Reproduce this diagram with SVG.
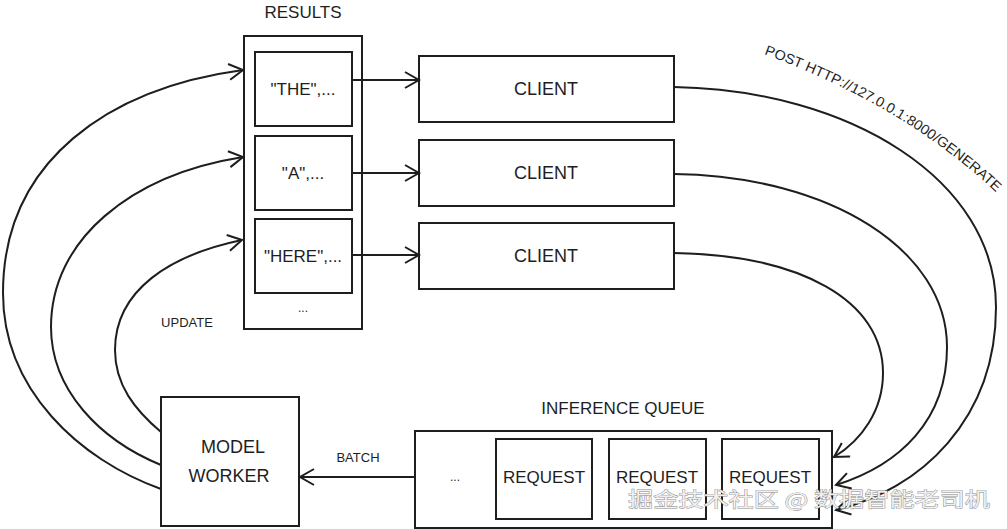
<svg xmlns="http://www.w3.org/2000/svg" width="1007" height="529" viewBox="0 0 1007 529">
<style>
.box{fill:#fff;stroke:#1e1e1e;stroke-width:2}
.ln{fill:none;stroke:#1e1e1e;stroke-width:2}
.t{font-family:"Liberation Sans",Arial,sans-serif;fill:#1e1e1e;text-anchor:middle;dominant-baseline:central}
.wm{font-family:"Noto Sans CJK SC","Liberation Sans",sans-serif;font-size:20px;fill:#f0f0f0;stroke:#8a8a8a;stroke-width:0.8;paint-order:stroke}
</style>
<defs>
<marker id="ah" viewBox="0 0 20 20" refX="18" refY="10" markerWidth="20" markerHeight="20" markerUnits="userSpaceOnUse" orient="auto">
<path d="M4 2 L18 10 L4 18" fill="none" stroke="#1e1e1e" stroke-width="2"/>
</marker>
<path id="postPath" d="M764 54 Q910 108 1002 198"/>
</defs>
<rect width="1007" height="529" fill="#fff"/>

<g id="results">
<text class="t" x="303" y="12" font-size="17">RESULTS</text>
<rect class="box" x="244" y="36" width="118" height="293"/>
</g>
<g id="res-the">
<rect class="box" x="255" y="52" width="97" height="74"/>
<text class="t" x="303" y="89" font-size="17">"THE",...</text>
</g>
<g id="res-a">
<rect class="box" x="255" y="136" width="97" height="74"/>
<text class="t" x="303" y="173" font-size="17">"A",...</text>
</g>
<g id="res-here">
<rect class="box" x="255" y="219" width="97" height="74"/>
<text class="t" x="303" y="256" font-size="17">"HERE",...</text>
</g>
<g id="res-more">
<text class="t" x="303" y="308" font-size="12">...</text>
</g>

<g id="client1">
<rect class="box" x="419" y="56" width="255" height="66"/>
<text class="t" x="546" y="89" font-size="18">CLIENT</text>
</g>
<g id="client2">
<rect class="box" x="419" y="140" width="255" height="66"/>
<text class="t" x="546" y="173" font-size="18">CLIENT</text>
</g>
<g id="client3">
<rect class="box" x="419" y="223" width="255" height="66"/>
<text class="t" x="546" y="256" font-size="18">CLIENT</text>
</g>

<g id="model-worker">
<rect class="box" x="161" y="397" width="138" height="129"/>
<text class="t" x="233" y="447" font-size="18">MODEL</text>
<text class="t" x="229" y="476" font-size="18">WORKER</text>
</g>

<g id="inference-queue">
<text class="t" x="623" y="408" font-size="17">INFERENCE QUEUE</text>
<rect class="box" x="415" y="431" width="417" height="97"/>
<text class="t" x="455" y="477" font-size="12">...</text>
</g>
<g id="request1">
<rect class="box" x="496" y="439" width="96" height="80"/>
<text class="t" x="544" y="477" font-size="17">REQUEST</text>
</g>
<g id="request2">
<rect class="box" x="609" y="439" width="97" height="80"/>
<text class="t" x="657" y="477" font-size="17">REQUEST</text>
</g>
<g id="request3">
<rect class="box" x="722" y="439" width="97" height="80"/>
<text class="t" x="770" y="477" font-size="17">REQUEST</text>
</g>

<g id="connectors">
<path class="ln" marker-end="url(#ah)" d="M352 80 L419 80"/>
<path class="ln" marker-end="url(#ah)" d="M352 173 L419 173"/>
<path class="ln" marker-end="url(#ah)" d="M352 255 L419 255"/>

<path class="ln" marker-end="url(#ah)" d="M161 489 C80 460 3 390 3 293 C3 160 110 88 243 70"/>
<path class="ln" marker-end="url(#ah)" d="M161 465 C100 440 51 390 51 327 C51 240 130 175 243 157"/>
<path class="ln" marker-end="url(#ah)" d="M161 432 C135 410 115 385 115 350 C115 290 170 255 242 240"/>
<text class="t" x="187" y="322" font-size="13">UPDATE</text>

<path class="ln" marker-end="url(#ah)" d="M674 87 C850 90 996 180 996 307 C996 420 920 490 836 510"/>
<path class="ln" marker-end="url(#ah)" d="M674 174 C830 176 947 250 947 347 C947 420 900 465 836 485"/>
<path class="ln" marker-end="url(#ah)" d="M674 253 C800 255 883 300 883 373 C883 410 862 440 834 457"/>
<text font-family="'Liberation Sans',Arial,sans-serif" font-size="14" fill="#1e1e1e"><textPath href="#postPath" textLength="272" lengthAdjust="spacingAndGlyphs">POST HTTP://127.0.0.1:8000/GENERATE</textPath></text>

<path class="ln" marker-end="url(#ah)" d="M415 477 L300 477"/>
<text class="t" x="358" y="457" font-size="13">BATCH</text>
</g>

<text class="wm" x="628" y="507" textLength="362" lengthAdjust="spacingAndGlyphs">掘金技术社区 @ 数据智能老司机</text>
</svg>
